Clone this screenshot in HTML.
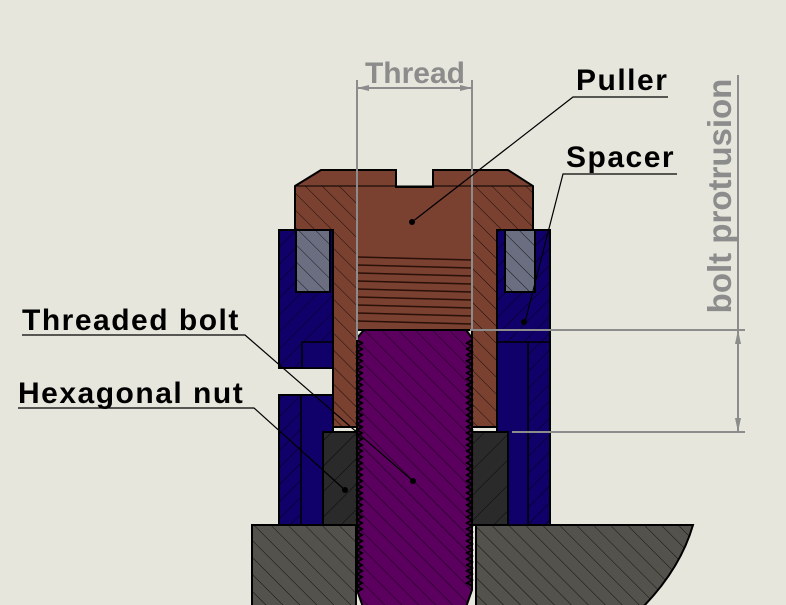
<!DOCTYPE html>
<html><head><meta charset="utf-8"><style>
html,body{margin:0;padding:0;background:#e6e6dc;}
svg{display:block;}
text{font-family:"Liberation Sans",sans-serif;font-weight:bold;}
</style></head><body>
<svg width="786" height="605" viewBox="0 0 786 605" xmlns="http://www.w3.org/2000/svg">
<defs>
<pattern id="hb" width="12" height="12" patternUnits="userSpaceOnUse" patternTransform="rotate(45)"><line x1="0" y1="0" x2="0" y2="12" stroke="#000" stroke-width="0.8"/></pattern>
<pattern id="hf" width="12" height="12" patternUnits="userSpaceOnUse" patternTransform="rotate(-45)"><line x1="0" y1="0" x2="0" y2="12" stroke="#000" stroke-width="0.8"/></pattern>
<pattern id="hb2" width="18" height="18" patternUnits="userSpaceOnUse" patternTransform="rotate(45)"><line x1="0" y1="0" x2="0" y2="18" stroke="#000" stroke-width="0.8"/></pattern>
</defs>
<rect width="786" height="605" fill="#e6e6dc"/>

<!-- base -->
<rect x="252" y="525" width="104" height="85" fill="#54524c" stroke="#000" stroke-width="2"/>
<rect x="252" y="525" width="104" height="85" fill="url(#hf)"/>
<path d="M476 525 L693 525 Q680 570 640 610 L476 610 Z" fill="#54524c" stroke="#000" stroke-width="2"/>
<path d="M476 525 L693 525 Q680 570 640 610 L476 610 Z" fill="url(#hf)"/>

<!-- spacer -->
<path d="M279 230 L333 230 L333 368 L279 368 Z" fill="#10006a" stroke="#000" stroke-width="2"/>
<rect x="279" y="230" width="54" height="138" fill="url(#hb)"/>
<rect x="302" y="342" width="31" height="26" fill="#10006a" stroke="#000" stroke-width="1.5"/>
<path d="M279 395 L333 395 L333 432 L323 432 L323 525 L279 525 Z" fill="#10006a" stroke="#000" stroke-width="2"/>
<rect x="279" y="395" width="22" height="130" fill="url(#hb)" stroke="#000" stroke-width="1.5"/>
<path d="M497 230 L550 230 L550 525 L497 525 Z" fill="#10006a" stroke="#000" stroke-width="2"/>
<rect x="528" y="342" width="22" height="183" fill="url(#hb)" stroke="#000" stroke-width="1.5"/>
<rect x="497" y="230" width="53" height="112" fill="url(#hb)"/>
<rect x="497" y="342" width="31" height="183" fill="#10006a" stroke="#000" stroke-width="1.5"/>
<!-- grey inserts -->
<rect x="296" y="230" width="34" height="62" fill="#6a6e80" stroke="#000" stroke-width="2"/>
<rect x="296" y="230" width="34" height="62" fill="url(#hf)"/>
<rect x="505" y="230" width="30" height="62" fill="#6a6e80" stroke="#000" stroke-width="2"/>
<rect x="505" y="230" width="30" height="62" fill="url(#hf)"/>

<!-- nut -->
<rect x="323" y="432" width="185" height="93" fill="#2a2a2a" stroke="#000" stroke-width="2"/>
<rect x="323" y="432" width="185" height="93" fill="url(#hb2)"/>

<!-- puller -->
<path d="M295 186 L321 170 L396 170 L396 187 L433 187 L433 170 L508 170 L533 186 L533 230 L497 230 L497 427 L472 427 L472 330 L357 330 L357 427 L333 427 L333 230 L295 230 Z" fill="#7a4030" stroke="#000" stroke-width="2"/>
<line x1="295" y1="186" x2="533" y2="186" stroke="#000" stroke-width="1"/>
<path d="M295 186 L357 186 L357 427 L333 427 L333 230 L295 230 Z" fill="url(#hf)"/>
<path d="M472 186 L533 186 L533 230 L497 230 L497 427 L472 427 Z" fill="url(#hf)"/>
<g stroke="#2a1008" stroke-width="1.5">
<line x1="357" y1="257" x2="472" y2="260"/><line x1="357" y1="265" x2="472" y2="268"/><line x1="357" y1="273" x2="472" y2="276"/><line x1="357" y1="281" x2="472" y2="284"/><line x1="357" y1="289" x2="472" y2="292"/><line x1="357" y1="297" x2="472" y2="300"/><line x1="357" y1="305" x2="472" y2="308"/><line x1="357" y1="313" x2="472" y2="316"/><line x1="357" y1="321" x2="472" y2="324"/>
</g>

<!-- bolt -->
<path d="M364 330 L466 330 L472 338 L472 590 L465 610 L364 610 L357 590 L357 338 Z" fill="#5c0060" stroke="#000" stroke-width="2"/>
<path d="M364 330 L466 330 L472 338 L472 590 L465 610 L364 610 L357 590 L357 338 Z" fill="url(#hf)"/>
<g fill="none" stroke="#000" stroke-width="2">
<path d="M357 340 l5 3 l-5 3 l5 3 l-5 3 l5 3 l-5 3 l5 3 l-5 3 l5 3 l-5 3 l5 3 l-5 3 l5 3 l-5 3 l5 3 l-5 3 l5 3 l-5 3 l5 3 l-5 3 l5 3 l-5 3 l5 3 l-5 3 l5 3 l-5 3 l5 3 l-5 3 l5 3 l-5 3 l5 3 l-5 3 l5 3 l-5 3 l5 3 l-5 3 l5 3 l-5 3 l5 3 l-5 3 l5 3 l-5 3 l5 3 l-5 3 l5 3 l-5 3 l5 3 l-5 3 l5 3 l-5 3 l5 3 l-5 3 l5 3 l-5 3 l5 3 l-5 3 l5 3 l-5 3 l5 3 l-5 3 l5 3 l-5 3 l5 3 l-5 3 l5 3 l-5 3 l5 3 l-5 3 l5 3 l-5 3 l5 3 l-5 3 l5 3 l-5 3 l5 3 l-5 3 l5 3 l-5 3 l5 3 l-5 3 l5 3 l-5 3 l5 3 l-5 3"/>
<path d="M472 340 l-5 3 l5 3 l-5 3 l5 3 l-5 3 l5 3 l-5 3 l5 3 l-5 3 l5 3 l-5 3 l5 3 l-5 3 l5 3 l-5 3 l5 3 l-5 3 l5 3 l-5 3 l5 3 l-5 3 l5 3 l-5 3 l5 3 l-5 3 l5 3 l-5 3 l5 3 l-5 3 l5 3 l-5 3 l5 3 l-5 3 l5 3 l-5 3 l5 3 l-5 3 l5 3 l-5 3 l5 3 l-5 3 l5 3 l-5 3 l5 3 l-5 3 l5 3 l-5 3 l5 3 l-5 3 l5 3 l-5 3 l5 3 l-5 3 l5 3 l-5 3 l5 3 l-5 3 l5 3 l-5 3 l5 3 l-5 3 l5 3 l-5 3 l5 3 l-5 3 l5 3 l-5 3 l5 3 l-5 3 l5 3 l-5 3 l5 3 l-5 3 l5 3 l-5 3 l5 3 l-5 3 l5 3 l-5 3 l5 3 l-5 3 l5 3"/>
</g>

<!-- dimensions -->
<g stroke="#8c8c8c" stroke-width="2" fill="#8c8c8c">
<line x1="357" y1="80" x2="357" y2="340"/>
<line x1="472" y1="80" x2="472" y2="330"/>
<line x1="357" y1="88" x2="472" y2="88"/>
<path d="M357 88 l12 -3 l0 6 z" stroke="none"/><path d="M472 88 l-12 -3 l0 6 z" stroke="none"/>
<line x1="470" y1="330" x2="745" y2="330"/>
<line x1="512" y1="432" x2="745" y2="432"/>
<line x1="738" y1="75" x2="738" y2="432"/>
<path d="M738 330 l-3 14 l6 0 z" stroke="none"/><path d="M738 432 l-3 -14 l6 0 z" stroke="none"/>
</g>
<text x="415" y="83" font-size="30" fill="#8c8c8c" text-anchor="middle">Thread</text>
<text transform="translate(731,196) rotate(-90)" font-size="33" fill="#8c8c8c" text-anchor="middle">bolt protrusion</text>

<!-- labels -->
<g stroke="#000" stroke-width="1.2" fill="none">
<polyline points="668,97 573,97 412,222"/>
<polyline points="677,174 563,174 525,322"/>
<polyline points="22,335 245,335 413,481"/>
<polyline points="18,408 254,408 345,490"/>
</g>
<g fill="#000"><circle cx="412" cy="222" r="3"/><circle cx="524" cy="322" r="3"/><circle cx="413" cy="481" r="3"/><circle cx="345" cy="490" r="3"/></g>
<g font-size="30" letter-spacing="1.5">
<text x="576" y="90">Puller</text>
<text x="566" y="167">Spacer</text>
<text x="22" y="330">Threaded bolt</text>
<text x="18" y="403">Hexagonal nut</text>
</g>
</svg>
</body></html>
